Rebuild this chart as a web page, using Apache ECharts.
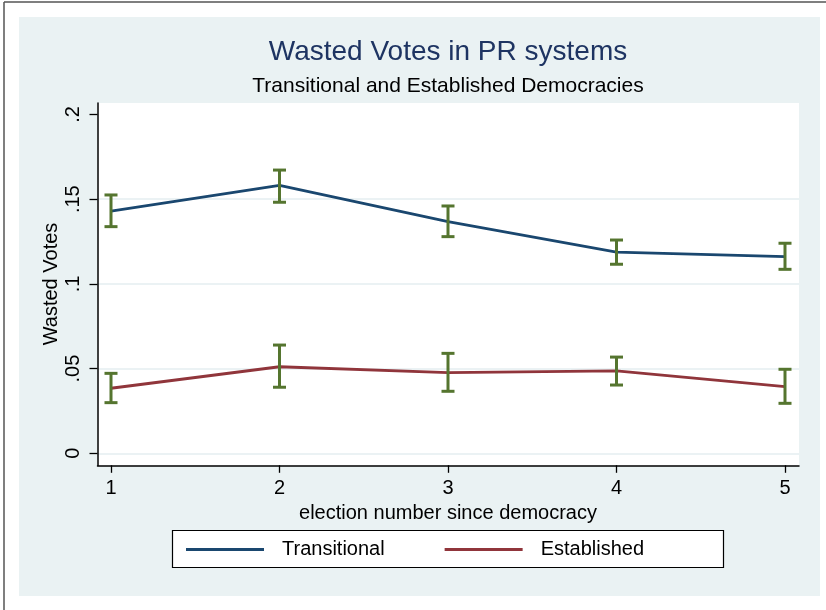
<!DOCTYPE html>
<html>
<head>
<meta charset="utf-8">
<script src="https://cdn.jsdelivr.net/npm/echarts@6/dist/echarts.min.js"></script>
<style>
  html, body { margin: 0; padding: 0; background: #fff; }
  #chart { width: 826px; height: 610px; }
</style>
</head>
<body>
<div id="chart"></div>
<script>
// ---- data ----
const elections = [1, 2, 3, 4, 5];
const transitional   = [0.1430, 0.1582, 0.1367, 0.1187, 0.1161];
const transitionalLo = [0.1338, 0.1482, 0.1279, 0.1116, 0.1086];
const transitionalHi = [0.1525, 0.1672, 0.1460, 0.1259, 0.1240];
const established    = [0.0384, 0.0511, 0.0476, 0.0486, 0.0393];
const establishedLo  = [0.0299, 0.0390, 0.0366, 0.0403, 0.0295];
const establishedHi  = [0.0472, 0.0639, 0.0590, 0.0568, 0.0496];
const yTicks = [0, 0.05, 0.1, 0.15, 0.2];
const yTickLabels = ['0', '.05', '.1', '.15', '.2'];
const xTickLabels = ['1', '2', '3', '4', '5'];
const seriesNames = ['Transitional', 'Established'];

const FONT = 'Liberation Sans, Arial, sans-serif';
const NAVY = '#1a476f', MAROON = '#90353b', GREEN = '#55752f';
const BG = '#eaf2f3', GRIDC = '#e4eef0';

function pairs(xs, ys) { return xs.map((x, i) => [x, ys[i]]); }
function ciData(xs, lo, hi) { return xs.map((x, i) => [x, lo[i], hi[i]]); }

function errRender(params, api) {
  const x = api.value(0), lo = api.value(1), hi = api.value(2);
  const a = api.coord([x, lo]), b = api.coord([x, hi]);
  const hw = 6.5;
  const st = { stroke: GREEN, lineWidth: 3 };
  return {
    type: 'group',
    children: [
      { type: 'line', shape: { x1: a[0], y1: a[1], x2: b[0], y2: b[1] }, style: st },
      { type: 'line', shape: { x1: a[0] - hw, y1: a[1], x2: a[0] + hw, y2: a[1] }, style: st },
      { type: 'line', shape: { x1: b[0] - hw, y1: b[1], x2: b[0] + hw, y2: b[1] }, style: st }
    ]
  };
}

const chart = echarts.init(document.getElementById('chart'), null, { renderer: 'canvas' });
const option = {
  backgroundColor: '#ffffff',
  animation: false,
  textStyle: { fontFamily: FONT },
  graphic: [
    { type: 'rect', z: -10, shape: { x: 19, y: 17, width: 801, height: 579 }, style: { fill: BG } },
    { type: 'line', z: -5, shape: { x1: 4, y1: 2, x2: 826, y2: 2 }, style: { stroke: '#555', lineWidth: 1.5 } },
    { type: 'line', z: -5, shape: { x1: 4, y1: 2, x2: 4, y2: 610 }, style: { stroke: '#555', lineWidth: 1.5 } },
    { type: 'text', x: 448, y: 52, style: { text: 'Wasted Votes in PR systems', font: '28px ' + FONT, fill: '#1e3462', textAlign: 'center', textVerticalAlign: 'middle' } },
    { type: 'text', x: 448, y: 86, style: { text: 'Transitional and Established Democracies', font: '21px ' + FONT, fill: '#000', textAlign: 'center', textVerticalAlign: 'middle' } },
    { type: 'text', x: 51, y: 284, rotation: Math.PI / 2, style: { text: 'Wasted Votes', font: '20px ' + FONT, fill: '#000', textAlign: 'center', textVerticalAlign: 'middle' } },
    { type: 'rect', z: 1, shape: { x: 172.5, y: 530.5, width: 551, height: 37 }, style: { fill: '#fff', stroke: '#000', lineWidth: 1.2 } }
  ],
  legend: {
    data: seriesNames,
    icon: 'rect',
    left: 186,
    top: 539.5,
    itemWidth: 78,
    itemHeight: 3,
    itemGap: 60,
    padding: 0,
    textStyle: { fontSize: 20, color: '#000', fontFamily: FONT, padding: [0, 0, 0, 13] },
    z: 5
  },
  grid: [
    { left: 97.5, right: 27, top: 103, bottom: 144.5, show: true, backgroundColor: '#fff', borderWidth: 0 },
    { left: 97.5, right: 27, top: 114.5, bottom: 156.7 },
    { left: 111, right: 41, top: 114.5, bottom: 156.7 }
  ],
  xAxis: [
    { gridIndex: 0, type: 'value', min: 0, max: 1, position: 'bottom',
      axisLine: { show: true, onZero: false, lineStyle: { color: '#000', width: 1.5 } },
      axisTick: { show: false }, axisLabel: { show: false }, splitLine: { show: false } },
    { gridIndex: 1, type: 'value', min: 0, max: 1, show: false },
    { gridIndex: 2, type: 'value', min: 1, max: 5, interval: 1, position: 'bottom', offset: 12,
      axisLine: { show: false, onZero: false },
      axisTick: { show: true, length: 7.5, inside: false, lineStyle: { color: '#000', width: 1.3 } },
      axisLabel: { show: true, margin: 13, fontSize: 20, color: '#000', fontFamily: FONT,
        formatter: v => xTickLabels[elections.indexOf(v)] },
      splitLine: { show: false },
      name: 'election number since democracy', nameLocation: 'middle', nameGap: 34,
      nameTextStyle: { fontSize: 20, color: '#000', fontFamily: FONT } }
  ],
  yAxis: [
    { gridIndex: 0, type: 'value', min: 0, max: 1, position: 'left',
      axisLine: { show: true, onZero: false, lineStyle: { color: '#000', width: 1.5 } },
      axisTick: { show: false }, axisLabel: { show: false }, splitLine: { show: false } },
    { gridIndex: 1, type: 'value', min: 0, max: 0.2, interval: 0.05, position: 'left',
      axisLine: { show: false, onZero: false },
      axisTick: { show: true, length: 8, inside: false, lineStyle: { color: '#000', width: 1.3 } },
      axisLabel: { show: true, rotate: 90, margin: 14, fontSize: 20, color: '#000', fontFamily: FONT,
        formatter: v => { const i = yTicks.findIndex(t => Math.abs(t - v) < 1e-9); return i >= 0 ? yTickLabels[i] : ''; } },
      splitLine: { show: true, lineStyle: { color: [GRIDC, GRIDC, GRIDC, GRIDC, 'rgba(0,0,0,0)'], width: 1.6 } } },
    { gridIndex: 2, type: 'value', min: 0, max: 0.2, show: false }
  ],
  series: [
    { name: 'Transitional', type: 'line', xAxisIndex: 2, yAxisIndex: 2, data: pairs(elections, transitional),
      symbol: 'none', lineStyle: { color: NAVY, width: 2.8 }, itemStyle: { color: NAVY }, z: 3 },
    { name: 'Established', type: 'line', xAxisIndex: 2, yAxisIndex: 2, data: pairs(elections, established),
      symbol: 'none', lineStyle: { color: MAROON, width: 2.8 }, itemStyle: { color: MAROON }, z: 3 },
    { name: 'TransitionalCI', type: 'custom', xAxisIndex: 2, yAxisIndex: 2, data: ciData(elections, transitionalLo, transitionalHi),
      renderItem: errRender, encode: { x: 0, y: [1, 2] }, z: 4 },
    { name: 'EstablishedCI', type: 'custom', xAxisIndex: 2, yAxisIndex: 2, data: ciData(elections, establishedLo, establishedHi),
      renderItem: errRender, encode: { x: 0, y: [1, 2] }, z: 4 }
  ]
};
chart.setOption(option);
</script>
</body>
</html>
